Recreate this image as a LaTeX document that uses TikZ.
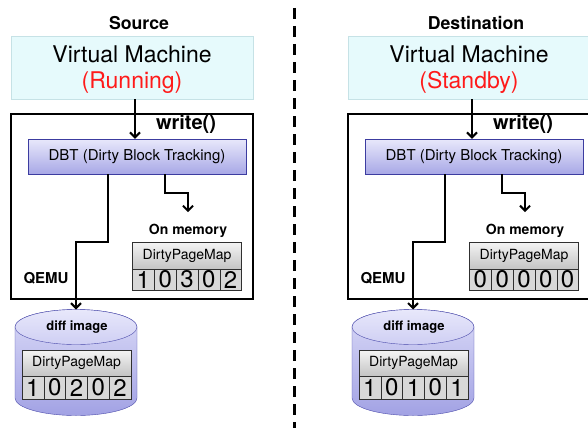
\documentclass[tikz,border=0pt]{standalone}
\usepackage{fontspec}
\setmainfont{TeX Gyre Heros}
\usepackage{tikz}
\usetikzlibrary{arrows.meta,positioning}

\definecolor{vmfill}{HTML}{E6FAFC}
\definecolor{vmline}{HTML}{C6E2E6}
\definecolor{dbttop}{HTML}{E8E8FB}
\definecolor{dbtbot}{HTML}{A8A8E6}
\definecolor{dbtline}{HTML}{3C3CA0}
\definecolor{disktop}{HTML}{DADAF7}
\definecolor{diskbot}{HTML}{A2A2E4}
\definecolor{diskline}{HTML}{4A4AAA}
\definecolor{headtop}{HTML}{F4F4F4}
\definecolor{headbot}{HTML}{C4C4C4}
\definecolor{cellfill}{HTML}{D8D8D8}
\definecolor{mapline}{HTML}{303030}
\definecolor{statered}{HTML}{FF1A1A}

\tikzset{
  vmbox/.style={draw=vmline, fill=vmfill, minimum width=242pt, minimum height=63pt, inner sep=0pt},
  vmtext/.style={align=center, inner sep=0pt, font=\fontsize{23}{26}\selectfont},
  qemubox/.style={draw, line width=2pt, minimum width=242pt, minimum height=185pt, inner sep=0pt},
  dbtbox/.style={draw=dbtline, top color=dbttop, bottom color=dbtbot, minimum width=218pt,
    minimum height=35pt, inner sep=0pt, font=\fontsize{15}{15}\selectfont},
  maphead/.style={draw=mapline, top color=headtop, bottom color=headbot, minimum width=109pt,
    minimum height=27pt, inner sep=0pt, font=\fontsize{14}{14}\selectfont},
  mapcell/.style={draw=mapline, fill=cellfill, minimum width=21.8pt, minimum height=21pt,
    inner sep=0pt, font=\fontsize{24}{24}\selectfont},
  disk/.style={draw=diskline, top color=disktop, bottom color=diskbot},
  disklid/.style={draw=diskline, top color=dbttop, bottom color=disktop!80!diskbot},
  bold/.style={font=\bfseries\fontsize{#1}{#1}\selectfont, inner sep=0pt},
  conn/.style={line width=2pt, -{Straight Barb[length=5pt,width=10pt]}},
  divider/.style={line width=3pt, dash pattern=on 11pt off 7pt}
}

\begin{document}
\begin{tikzpicture}[x=1pt,y=-1pt]
  \clip (0,0) rectangle (588,428);

  % source | destination
  \draw[divider] (294,8) -- (294,428);

  \foreach \p/\dx/\ttl/\st/\mem/\dif in
    {s/0/Source/Running/{1,0,3,0,2}/{1,0,2,0,2},
     d/337/Destination/Standby/{0,0,0,0,0}/{1,0,1,0,1}}{
  \begin{scope}[xshift=\dx]
    \node[bold=17.7] (\p-title) at (139,23) {\ttl};
    \node[vmbox] (\p-vm) at (132,67.5) {};
    \node[vmtext] (\p-vmtext) at (132,70) {Virtual Machine\\\textcolor{statered}{(\st)}};
    \node[qemubox] (\p-qemu) at (132,206.5) {};
    \node[bold=20] (\p-write) at (186,124) {write()};
    \node[bold=15] (\p-qlabel) at (46,278) {QEMU};
    \node[dbtbox] (\p-dbt) at (137,156.5) {DBT (Dirty Block Tracking)};

    % table kept in memory
    \node[bold=14] (\p-onmem) at (188,231) {On memory};
    \node[maphead] (\p-mh) at (187,255.5) {DirtyPageMap};
    \foreach \v [count=\i] in \mem
      \node[mapcell] (\p-m\i) at (132.5+21.8*\i-10.9,279.5) {\v};

    % diff image on disk
    \shadedraw[disk] (15,327) -- (15,398)
      arc[start angle=180, end angle=0, x radius=61, y radius=17.5] -- (137,327)
      arc[start angle=0, end angle=-180, x radius=61, y radius=17.5] -- cycle;
    \shadedraw[disklid] (76,327) ellipse[x radius=61, y radius=17.5];
    \coordinate (\p-disk) at (76,309.5);
    \node[bold=13] (\p-dlabel) at (77,327) {diff image};
    \node[maphead, minimum height=26pt] (\p-dh) at (76.5,363) {DirtyPageMap};
    \foreach \v [count=\i] in \dif
      \node[mapcell, minimum height=23pt] (\p-f\i) at (22+21.8*\i-10.9,387.5) {\v};

    % connectors
    \draw[conn] ([xshift=3pt]\p-vm.south) -- ([xshift=3pt]\p-vm.south |- \p-dbt.north);
    \draw[conn] ([xshift=-29pt]\p-dbt.south) -- ++(0,68) -| (\p-disk);
    \draw[conn] ([xshift=28pt]\p-dbt.south) -- ++(0,19) -| ([yshift=12pt]\p-onmem.north);
  \end{scope}
  }
\end{tikzpicture}
\end{document}
